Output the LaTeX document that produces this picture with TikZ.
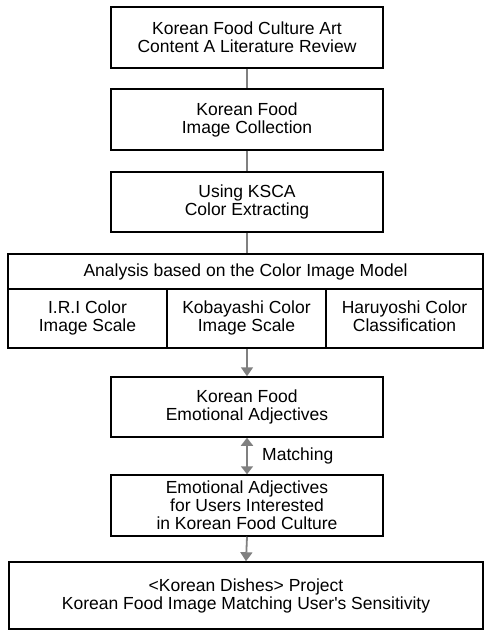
\documentclass[tikz,border=0pt]{standalone}
\usepackage{fontspec}
\setmainfont{Liberation Sans}
\usetikzlibrary{arrows.meta}

\begin{document}
\begin{tikzpicture}[x=1pt,y=-1pt,
    stepbox/.style={draw,line width=1.5pt,minimum width=272pt,minimum height=61pt,
        align=center,inner sep=0pt,font=\fontsize{17.5}{18}\selectfont},
    cellbox/.style={stepbox,minimum width=159pt,minimum height=59pt,text depth=4pt},
    link/.style={draw=gray,line width=1.8pt},
    arr/.style={link,-{Triangle[width=12pt,length=9pt]}}]
    \useasboundingbox (0,0) rectangle (484,631);
    \node[stepbox] (review) at (247,37.5) {Korean Food Culture Art\\Content A Literature Review};
    \node[stepbox] (collect) at (247,119.5) {Korean Food\\Image Collection};
    \node[stepbox,minimum height=60pt] (ksca) at (247,202) {Using KSCA\\Color Extracting};
    % analysis table
    \node[stepbox,minimum width=475pt,minimum height=35pt] (model) at (245.5,271.5) {Analysis based on the Color Image Model};
    \node[cellbox] (iri) at (87.5,318.5) {I.R.I Color\\Image Scale};
    \node[cellbox] (koba) at (246.5,318.5) {Kobayashi Color\\Image Scale};
    \node[cellbox,minimum width=157pt] (haru) at (404.5,318.5) {Haruyoshi Color\\Classification};
    \node[stepbox,minimum height=60pt] (emotion) at (247,407) {Korean Food\\Emotional Adjectives};
    \node[stepbox] (users) at (247,505.5) {Emotional Adjectives\\for Users Interested\\in Korean Food Culture};
    \node[stepbox,minimum width=474pt,minimum height=67pt] (project) at (246,595.5)
        {<Korean Dishes> Project\\Korean Food Image Matching User\textquotesingle s Sensitivity};
    \draw[link] (review.south) -- (collect.north);
    \draw[link] (collect.south) -- (ksca.north);
    \draw[link] (ksca.south) -- (ksca.south |- model.north);
    \draw[arr] (emotion.north |- koba.south) -- (emotion.north);
    \draw[link,{Triangle[width=12pt,length=8pt]}-{Triangle[width=12pt,length=8pt]}] (emotion.south) -- node[right=11pt,font=\fontsize{17.5}{18}\selectfont] (match) {Matching} (users.north);
    \draw[arr] (users.south) -- (project.north);
\end{tikzpicture}
\end{document}
